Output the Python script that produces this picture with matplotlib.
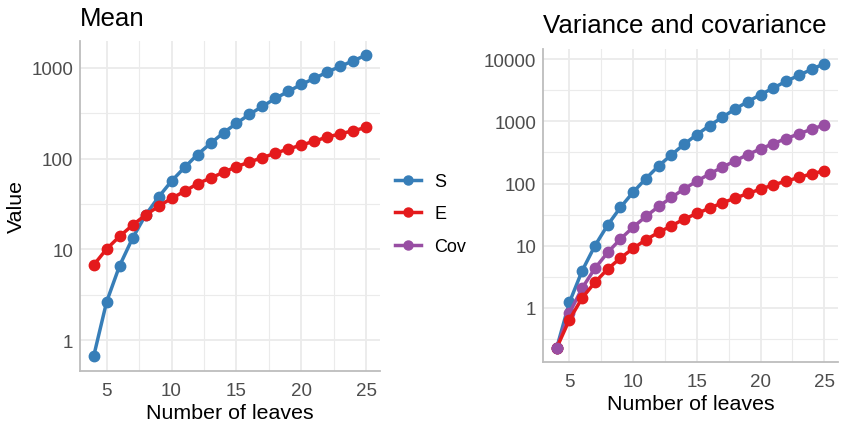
import matplotlib
matplotlib.use("Agg")
import matplotlib.pyplot as plt
from matplotlib.lines import Line2D
from matplotlib.ticker import FixedLocator, FixedFormatter
import numpy as np

plt.rcParams['font.family'] = ['Liberation Sans', 'DejaVu Sans']

leaves = list(range(4, 26))

mean_S = [0.66, 2.64, 6.6, 13.3, 23.9, 37.7, 56.6, 80, 111, 147, 193, 245, 308, 377,
          462, 552, 659, 767, 901, 1041, 1202, 1387]
mean_E = [6.7, 10.1, 13.9, 18.5, 23.9, 29.8, 36.5, 43.6, 52.9, 61.1, 70.6, 81.5, 91.8,
          102.5, 115, 128, 141, 156, 173, 188, 203, 221]

var_S = [0.228, 1.23, 3.97, 10, 21.5, 41.2, 72.6, 120, 192, 288, 428, 611, 852, 1158,
         1577, 2068, 2680, 3428, 4385, 5471, 6829, 8418]
var_E = [0.228, 0.65, 1.45, 2.58, 4.22, 6.35, 9.06, 12.5, 16.4, 20.9, 26.8, 33.0, 40.2,
         48.9, 58.2, 69.1, 81.2, 95.2, 109, 125, 143, 160]
cov_SE = [0.228, 0.83, 2.09, 4.33, 7.8, 12.8, 19.9, 29.6, 42.8, 59.6, 82, 109, 143, 183,
          231, 292, 360, 438, 527, 627, 745, 873]

series_names = ["S", "E", "Cov"]
colors = {"S": "#377EB8", "E": "#E41A1C", "Cov": "#984EA3"}

W, H = 845, 427
fig = plt.figure(figsize=(W / 100, H / 100), dpi=100)

def px_axes(l, t, r, b):
    return fig.add_axes([l / W, 1 - b / H, (r - l) / W, (b - t) / H])

ax1 = px_axes(80, 41.7, 380, 371.7)
ax2 = px_axes(543.3, 50, 837.7, 362.7)

grid_c = "#EBEBEB"
tick_c = "#4D4D4D"

def style(ax, ylim, majors):
    ax.set_yscale("log")
    ax.set_xlim(2.95, 26.05)
    ax.set_ylim(*ylim)
    ax.xaxis.set_major_locator(FixedLocator([5, 10, 15, 20, 25]))
    ax.xaxis.set_minor_locator(FixedLocator([7.5, 12.5, 17.5, 22.5]))
    ax.yaxis.set_major_locator(FixedLocator(majors))
    ax.yaxis.set_major_formatter(FixedFormatter([str(int(m)) for m in majors]))
    minors = [m * np.sqrt(10) for m in [0.1] + majors]
    ax.yaxis.set_minor_locator(FixedLocator(minors))
    ax.yaxis.set_minor_formatter(FixedFormatter([""] * len(minors)))
    ax.grid(True, which="major", color=grid_c, lw=1.3, zorder=0)
    ax.grid(True, which="minor", color=grid_c, lw=0.8, zorder=0)
    ax.set_axisbelow(True)
    ax.tick_params(which="both", length=0, labelsize=13.5, labelcolor=tick_c)
    ax.tick_params(axis="x", pad=8)
    ax.tick_params(axis="y", pad=5)
    for s in ["top", "right"]:
        ax.spines[s].set_visible(False)
    for s in ["left", "bottom"]:
        ax.spines[s].set_color("#BDBDBD")
        ax.spines[s].set_linewidth(1.3)
    ax.set_xlabel("Number of leaves", fontsize=15.4, color="black", labelpad=3)

kw = dict(lw=2.5, marker="o", ms=7.5, zorder=3)

ax1.plot(leaves, mean_S, color=colors["S"], **kw)
ax1.plot(leaves, mean_E, color=colors["E"], **kw)
style(ax1, (10 ** -0.338, 10 ** 3.30), [1, 10, 100, 1000])
ax1.set_ylabel("Value", fontsize=15.4, color="black", labelpad=4)
ax1.set_title("Mean", loc="left", fontsize=18.6, pad=11)

ax2.plot(leaves, var_S, color=colors["S"], **kw)
ax2.plot(leaves, cov_SE, color=colors["Cov"], **kw)
ax2.plot(leaves, var_E, color=colors["E"], **kw)
ax2.plot(leaves[:1], var_S[:1], color=colors["Cov"], **kw)
style(ax2, (10 ** -0.863, 10 ** 4.161), [1, 10, 100, 1000, 10000])
ax2.set_title("Variance and covariance", loc="left", fontsize=18.6, pad=12)

handles = [Line2D([0], [0], color=colors[n], lw=2.5, marker="o", ms=6.5) for n in series_names]
fig.legend(handles, series_names, loc="center left",
           bbox_to_anchor=(379 / W, 1 - 215 / H), frameon=False,
           fontsize=13, handlelength=1.45, handletextpad=0.7, labelspacing=0.85)

fig.savefig("out.png", dpi=100)
